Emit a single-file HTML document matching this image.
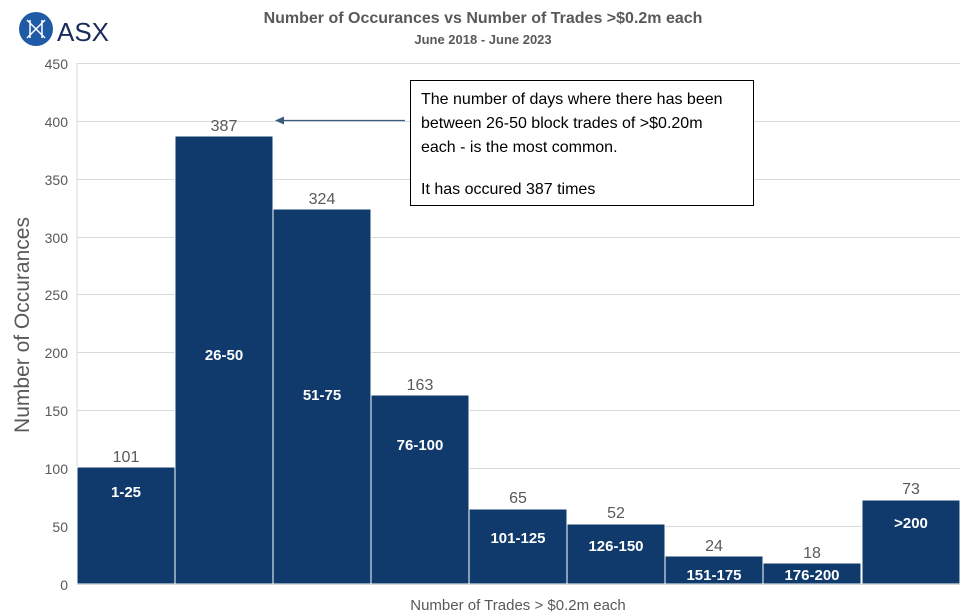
<!DOCTYPE html><html><head><style>body{margin:0;background:#fff}svg{display:block;font-family:"Liberation Sans",sans-serif}</style></head><body>
<svg width="966" height="616" viewBox="0 0 966 616">
<g stroke="#d9d9d9" stroke-width="1">
<line x1="77" x2="960" y1="63.5" y2="63.5"/><line x1="77" x2="960" y1="121.5" y2="121.5"/><line x1="77" x2="960" y1="179.5" y2="179.5"/><line x1="77" x2="960" y1="237.5" y2="237.5"/><line x1="77" x2="960" y1="294.5" y2="294.5"/><line x1="77" x2="960" y1="352.5" y2="352.5"/><line x1="77" x2="960" y1="410.5" y2="410.5"/><line x1="77" x2="960" y1="468.5" y2="468.5"/><line x1="77" x2="960" y1="526.5" y2="526.5"/><line x1="77" x2="77" y1="63" y2="584"/>
</g>
<g font-size="14" fill="#595959" text-anchor="end">
<text x="68" y="69">450</text><text x="68" y="127">400</text><text x="68" y="185">350</text><text x="68" y="243">300</text><text x="68" y="300">250</text><text x="68" y="358">200</text><text x="68" y="416">150</text><text x="68" y="474">100</text><text x="68" y="532">50</text><text x="68" y="590">0</text>
</g>
<g fill="#0f3a6b" stroke="#fff" stroke-width="1">
<rect x="77" y="467" width="98" height="117"/><rect x="175" y="136" width="98" height="448"/><rect x="273" y="209" width="98" height="375"/><rect x="371" y="395" width="98" height="189"/><rect x="469" y="509" width="98" height="75"/><rect x="567" y="524" width="98" height="60"/><rect x="665" y="556" width="98" height="28"/><rect x="763" y="563" width="98" height="21"/><rect x="862" y="500" width="98" height="84"/>
</g>
<line x1="77" x2="960" y1="584.5" y2="584.5" stroke="#d9d9d9"/>
<g font-size="16" fill="#595959" text-anchor="middle">
<text x="126" y="462">101</text><text x="224" y="131">387</text><text x="322" y="204">324</text><text x="420" y="390">163</text><text x="518" y="503">65</text><text x="616" y="518">52</text><text x="714" y="551">24</text><text x="812" y="558">18</text><text x="911" y="494">73</text>
</g>
<g font-size="15" font-weight="bold" fill="#fff" text-anchor="middle">
<text x="126" y="497">1-25</text><text x="224" y="360">26-50</text><text x="322" y="400">51-75</text><text x="420" y="450">76-100</text><text x="518" y="543">101-125</text><text x="616" y="551">126-150</text><text x="714" y="580">151-175</text><text x="812" y="580">176-200</text><text x="911" y="528">&gt;200</text>
</g>
<rect x="410.5" y="80.5" width="343" height="125" fill="#fff" stroke="#000"/>
<g font-size="16" fill="#000"><text x="421" y="104">The number of days where there has been</text><text x="421" y="128">between 26-50 block trades of &gt;$0.20m</text><text x="421" y="152">each - is the most common.</text><text x="421" y="194">It has occured 387 times</text></g>
<line x1="405" y1="120.5" x2="283" y2="120.5" stroke="#3b5b80" stroke-width="1.2"/><polygon points="275,120.5 284,116.5 284,124.5" fill="#3b5b80"/>
<text x="483" y="23" font-size="16" font-weight="bold" fill="#595959" text-anchor="middle">Number of Occurances vs Number of Trades  &gt;$0.2m each</text>
<text x="483" y="44" font-size="13" font-weight="bold" fill="#595959" text-anchor="middle">June  2018 - June 2023</text>
<text x="29" y="325" font-size="21" fill="#595959" text-anchor="middle" transform="rotate(-90 29 325)">Number of Occurances</text>
<text x="518" y="610" font-size="15" fill="#595959" text-anchor="middle">Number of Trades &gt; $0.2m each</text>
<circle cx="36" cy="29" r="17" fill="#1f5aa6"/>
<g stroke="#fff" stroke-width="1.5" fill="none"><path d="M27 20 L45 38 M45 20 L27 38 M30 20 L30 38 M42 20 L42 38"/></g>
<text x="57" y="41" font-size="26" fill="#1a2b5a">ASX</text>
</svg></body></html>
